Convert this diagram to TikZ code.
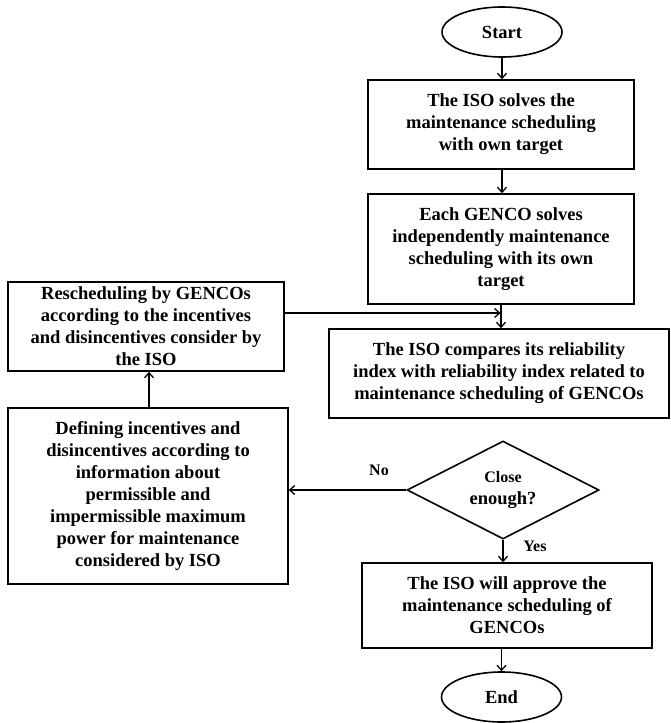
\documentclass[tikz,border=0pt]{standalone}
\usepackage{fontspec}
\setmainfont{Liberation Serif}
\usetikzlibrary{shapes.geometric,arrows.meta}
\begin{document}
\begin{tikzpicture}[x=1pt,y=-1pt,
  every node/.style={font=\bfseries\fontsize{18.5}{22}\selectfont, align=center, inner sep=0pt},
  procbox/.style={draw, line width=1.6pt, rectangle},
  term/.style={draw, line width=1.6pt, ellipse, minimum width=120pt, minimum height=50pt},
  decis/.style={draw, line width=1.6pt, diamond, aspect=2, minimum width=192pt, minimum height=98pt},
  flow/.style={line width=1.6pt, -{Straight Barb[length=5pt,width=9pt,line width=1.3pt]}},
  lbl/.style={font=\bfseries\fontsize{16}{19}\selectfont}]
\useasboundingbox (0,0) rectangle (670,723);
\node[term] (start) at (502,32) {Start};
\node[procbox, minimum width=266pt, minimum height=89pt] (b1) at (501,124.5)
  {The ISO solves the\\maintenance scheduling\\with own target};
\node[procbox, minimum width=266pt, minimum height=110pt] (b2) at (501,249)
  {Each GENCO solves\\independently maintenance\\scheduling with its own\\target};
\node[procbox, minimum width=276pt, minimum height=89pt] (resch) at (146,326.5)
  {Rescheduling by GENCOs\\according to the incentives\\and disincentives consider by\\the ISO};
\node[procbox, minimum width=340pt, minimum height=89pt] (b3) at (499,373.5)
  {The ISO compares its reliability\\index with reliability index related to\\maintenance scheduling of GENCOs};
\node[decis] (dec) at (503,490) {\fontsize{16}{20}\selectfont Close\\enough?};
\node[procbox, minimum width=280pt, minimum height=176pt] (def) at (148,496)
  {Defining incentives and\\disincentives according to\\information about\\permissible and\\impermissible maximum\\power for maintenance\\considered by ISO};
\node[procbox, minimum width=290pt, minimum height=85pt] (appr) at (507,605.5)
  {The ISO will approve the\\maintenance scheduling of\\GENCOs};
\node[term] (end) at (501.5,697) {End};
\coordinate (j) at (501,313);
\draw[flow] (start.south) -- (start.south |- b1.north);
\draw[flow] (b1.south -| start.south) -- (b1.south -| start.south) ++(0,0) -- (start.south |- b2.north);
\draw[flow] (j |- b2.south) -- (j |- b3.north);
\draw[flow] (resch.east |- j) -- ([xshift=-0.5pt]j);
\draw[flow] (def.north -| 149,0) -- (resch.south -| 149,0);
\draw[flow] (dec.west) -- (def.east |- dec.west);
\draw[flow] (dec.south) -- (dec.south |- appr.north);
\draw[flow] (appr.south -| end.north) -- (end.north);
\node[lbl] (no) at (379,470) {No};
\node[lbl] (yes) at (535,546) {Yes};
\end{tikzpicture}
\end{document}
